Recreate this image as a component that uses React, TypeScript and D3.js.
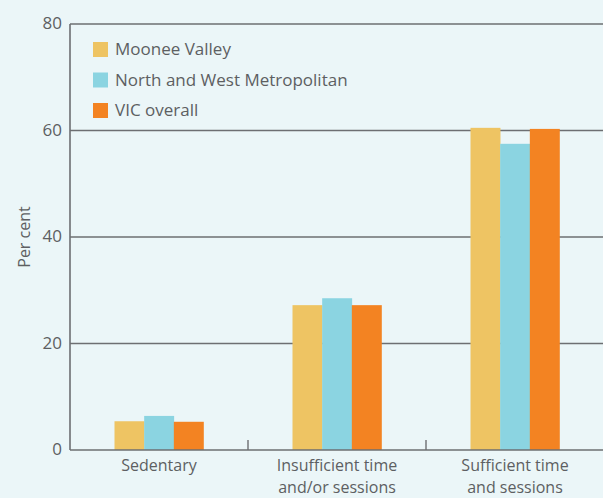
import React from 'react';
import * as d3 from 'd3';

const categories = [['Sedentary'], ['Insufficient time', 'and/or sessions'], ['Sufficient time', 'and sessions']];
const seriesNames = ['Moonee Valley', 'North and West Metropolitan', 'VIC overall'];
const seriesColors = ['#eec463', '#8bd4e1', '#f38322'];
const mooneeValley = [5.4, 27.2, 60.5];
const northWestMetro = [6.4, 28.5, 57.5];
const vicOverall = [5.3, 27.2, 60.3];
const yTicks = [0, 20, 40, 60, 80];

const series = [mooneeValley, northWestMetro, vicOverall];

const W = 603;
const H = 498;
const margin = { top: 24, right: -1, bottom: 48, left: 70 };
const font = '"Open Sans", "Noto Sans", sans-serif';
const textColor = '#5d5f62';
const lineColor = '#6d6f72';

export default function App() {
  const x0 = d3.scaleBand<number>()
    .domain(categories.map((_, i) => i))
    .range([margin.left, W - margin.right])
    .padding(0);
  const groupW = x0.bandwidth() * 0.5;
  const x1 = d3.scaleBand<number>()
    .domain(series.map((_, i) => i))
    .range([0, groupW])
    .padding(0);
  const y = d3.scaleLinear().domain([0, 80]).range([H - margin.bottom, margin.top]);

  return (
    <svg width={W} height={H} style={{ position: 'absolute', left: 0, top: 0, background: '#ebf6f8' }}>
      <rect x={0} y={0} width={W} height={H} fill='#ebf6f8' />
      {/* gridlines */}
      {yTicks.filter(t => t > 0).map(t => (
        <line key={`g-${t}`} x1={margin.left} x2={W} y1={y(t)} y2={y(t)} stroke={lineColor} strokeWidth={1.6} />
      ))}
      {/* bars */}
      {categories.map((_, ci) => (
        <g key={`cat-${ci}`} transform={`translate(${(x0(ci) as number) + (x0.bandwidth() - groupW) / 2},0)`}>
          {series.map((s, si) => (
            <rect key={`bar-${si}`} x={x1(si)} y={y(s[ci])} width={x1.bandwidth() + 0.3}
              height={y(0) - y(s[ci])} fill={seriesColors[si]} />
          ))}
        </g>
      ))}
      {/* axes */}
      <line x1={margin.left} x2={W} y1={y(0)} y2={y(0)} stroke={lineColor} strokeWidth={1.6} />
      <line x1={margin.left} x2={margin.left} y1={y(80)} y2={y(0)} stroke={lineColor} strokeWidth={1.6} />
      {categories.slice(1).map((_, i) => (
        <line key={`tick-${i}`} x1={x0(i + 1)} x2={x0(i + 1)} y1={y(0)} y2={y(0) - 10} stroke={lineColor} strokeWidth={1.4} />
      ))}
      {yTicks.map(t => (
        <text key={`yt-${t}`} x={margin.left - 8} y={y(t)} dy='0.3em' textAnchor='end'
          fontFamily={font} fontSize={17} fill={textColor}>{t}</text>
      ))}
      <text transform={`translate(30,${y(40)}) rotate(-90)`} textAnchor='middle'
        fontFamily={font} fontSize={16} fill={textColor}>Per cent</text>
      {categories.map((lines, ci) => (
        <text key={`xl-${ci}`} textAnchor='middle' fontFamily={font} fontSize={16} fill={textColor}>
          {lines.map((l, li) => (
            <tspan key={li} x={(x0(ci) as number) + x0.bandwidth() / 2} y={y(0) + 21 + li * 22}>{l}</tspan>
          ))}
        </text>
      ))}
      {/* legend */}
      {seriesNames.map((n, i) => (
        <g key={`lg-${i}`} transform={`translate(93,${42 + i * 30.5})`}>
          <rect x={0} y={0} width={15} height={15} fill={seriesColors[i]} />
          <text x={22} y={7.5} dy='0.35em' fontFamily={font} fontSize={17} fill={textColor}>{n}</text>
        </g>
      ))}
    </svg>
  );
}
